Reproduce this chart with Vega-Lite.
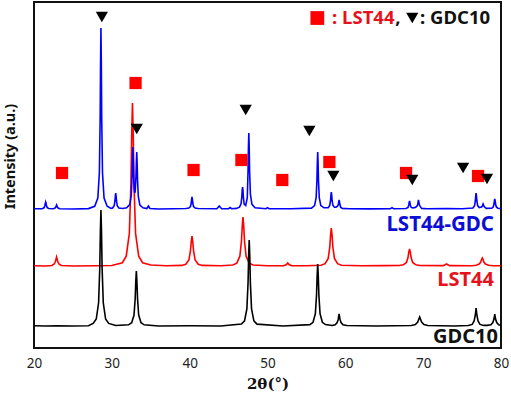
{
  "$schema": "https://vega.github.io/schema/vega-lite/v6.json",
  "width": 467,
  "height": 346,
  "autosize": {"type": "none"},
  "padding": {"left": 34, "top": 2, "right": 10, "bottom": 49},
  "background": "white",
  "config": {"view": {"stroke": "#111111", "strokeWidth": 2}, "font": "Noto Sans"},
  "datasets": {
    "gdc": [
      {"x":20,"y":22.3},{"x":21.5,"y":22},{"x":23,"y":22.2},{"x":25,"y":22},{"x":27,"y":22.3},
      {"x":27.6,"y":24.6},{"x":28.0,"y":29},{"x":28.3,"y":45.2},{"x":28.45,"y":80},{"x":28.53,"y":117},{"x":28.6,"y":138},{"x":28.67,"y":117},{"x":28.75,"y":80},{"x":28.9,"y":45.2},{"x":29.2,"y":29},{"x":29.6,"y":24.6},
      {"x":30.5,"y":22.5},{"x":32.15,"y":23.2},{"x":32.55,"y":25.3},{"x":32.85,"y":33},{"x":33.0,"y":49.5},{"x":33.08,"y":67},{"x":33.15,"y":77},{"x":33.22,"y":67},{"x":33.3,"y":49.5},{"x":33.45,"y":33},{"x":33.75,"y":25.3},{"x":34.15,"y":23.2},
      {"x":36,"y":22},{"x":40,"y":22.2},{"x":44,"y":22},
      {"x":46.65,"y":23.9},{"x":47.05,"y":27.2},{"x":47.35,"y":39.2},{"x":47.5,"y":65},{"x":47.58,"y":92.5},{"x":47.65,"y":108},{"x":47.72,"y":92.5},{"x":47.8,"y":65},{"x":47.95,"y":39.2},{"x":48.25,"y":27.2},{"x":48.65,"y":23.9},
      {"x":52,"y":22},
      {"x":55.45,"y":23.4},{"x":55.85,"y":25.7},{"x":56.15,"y":34.4},{"x":56.3,"y":53},{"x":56.38,"y":72.8},{"x":56.45,"y":84},{"x":56.52,"y":72.8},{"x":56.6,"y":53},{"x":56.75,"y":34.4},{"x":57.05,"y":25.7},{"x":57.45,"y":23.4},
      {"x":58.3,"y":22.5},{"x":58.7,"y":23.2},{"x":58.95,"y":25.5},{"x":59.08,"y":28.5},{"x":59.2,"y":34},{"x":59.32,"y":28.5},{"x":59.45,"y":25.5},{"x":59.7,"y":23.2},{"x":60.2,"y":22.5},
      {"x":64,"y":22},
      {"x":68.5,"y":22.5},{"x":69.0,"y":23.5},{"x":69.3,"y":26},{"x":69.45,"y":29},{"x":69.55,"y":31},{"x":69.65,"y":29},{"x":69.8,"y":26},{"x":70.1,"y":23.5},{"x":70.6,"y":22.5},
      {"x":74,"y":22},
      {"x":75.8,"y":22.5},{"x":76.3,"y":23.6},{"x":76.55,"y":27},{"x":76.7,"y":33},{"x":76.8,"y":40},{"x":76.9,"y":33},{"x":77.05,"y":27},{"x":77.3,"y":23.6},{"x":77.8,"y":22.6},
      {"x":78.2,"y":22.6},{"x":78.7,"y":23.3},{"x":78.95,"y":25.5},{"x":79.1,"y":29},{"x":79.2,"y":34},{"x":79.3,"y":29},{"x":79.45,"y":25.5},{"x":79.7,"y":23.3},{"x":80,"y":22.8}
    ],
    "lst": [
      {"x":20,"y":82.3},{"x":21.5,"y":82},{"x":22.3,"y":82.5},{"x":22.6,"y":84},{"x":22.75,"y":86.5},{"x":22.85,"y":89.5},{"x":22.9,"y":91},{"x":22.95,"y":89.5},{"x":23.05,"y":86.5},{"x":23.2,"y":84},{"x":23.5,"y":82.5},
      {"x":25,"y":82},{"x":28,"y":82.3},{"x":30,"y":82.5},
      {"x":31.35,"y":85.3},{"x":31.85,"y":91.8},{"x":32.25,"y":114.6},{"x":32.45,"y":163.5},{"x":32.55,"y":212.4},{"x":32.65,"y":245},{"x":32.75,"y":212.4},{"x":32.85,"y":163.5},{"x":33.05,"y":114.6},{"x":33.45,"y":91.8},{"x":33.95,"y":85.3},
      {"x":35,"y":83},{"x":37,"y":82.3},
      {"x":39.0,"y":82.6},{"x":39.5,"y":83.8},{"x":39.9,"y":88},{"x":40.1,"y":97},{"x":40.2,"y":106},{"x":40.3,"y":112},{"x":40.4,"y":106},{"x":40.5,"y":97},{"x":40.7,"y":88},{"x":41.1,"y":83.8},{"x":41.6,"y":82.6},
      {"x":44,"y":82.3},
      {"x":45.55,"y":83},{"x":46.05,"y":84.9},{"x":46.45,"y":91.8},{"x":46.65,"y":106.5},{"x":46.75,"y":121.2},{"x":46.85,"y":131},{"x":46.95,"y":121.2},{"x":47.05,"y":106.5},{"x":47.25,"y":91.8},{"x":47.65,"y":84.9},{"x":48.15,"y":83},
      {"x":50,"y":82.3},{"x":52.1,"y":82.4},{"x":52.4,"y":83.3},{"x":52.6,"y":85},{"x":52.8,"y":83.3},{"x":53.1,"y":82.4},{"x":55,"y":82.2},
      {"x":56.9,"y":82.8},{"x":57.4,"y":84.3},{"x":57.8,"y":89.6},{"x":58.0,"y":101},{"x":58.1,"y":112.4},{"x":58.2,"y":120},{"x":58.3,"y":112.4},{"x":58.4,"y":101},{"x":58.6,"y":89.6},{"x":59.0,"y":84.3},{"x":59.5,"y":82.8},
      {"x":62,"y":82.2},{"x":65,"y":82.4},
      {"x":66.95,"y":82.5},{"x":67.45,"y":83.2},{"x":67.85,"y":85.6},{"x":68.05,"y":90.5},{"x":68.15,"y":95.6},{"x":68.25,"y":99},{"x":68.35,"y":95.6},{"x":68.45,"y":90.5},{"x":68.65,"y":85.6},{"x":69.05,"y":83.2},{"x":69.55,"y":82.5},
      {"x":72.6,"y":82.4},{"x":73.0,"y":84},{"x":73.4,"y":82.4},
      {"x":76.3,"y":82.3},{"x":76.8,"y":82.8},{"x":77.2,"y":84},{"x":77.4,"y":86},{"x":77.5,"y":88.4},{"x":77.6,"y":90},{"x":77.7,"y":88.4},{"x":77.8,"y":86},{"x":78.0,"y":84},{"x":78.4,"y":82.8},{"x":79,"y":82.3},{"x":80,"y":82.2}
    ],
    "mix": [
      {"x":20,"y":139.3},{"x":21,"y":139.2},{"x":21.1,"y":139.5},{"x":21.3,"y":140.4},{"x":21.4,"y":142.5},{"x":21.45,"y":144.6},{"x":21.5,"y":146},{"x":21.55,"y":144.6},{"x":21.6,"y":142.5},{"x":21.7,"y":140.4},{"x":21.9,"y":139.5},
      {"x":22.5,"y":139.3},{"x":22.7,"y":140},{"x":22.8,"y":141},{"x":22.9,"y":143},{"x":23.0,"y":141},{"x":23.1,"y":140},{"x":23.3,"y":139.3},
      {"x":25,"y":139},{"x":27,"y":139.4},
      {"x":27.8,"y":141.7},{"x":28.2,"y":149.9},{"x":28.4,"y":175.2},{"x":28.5,"y":229.5},{"x":28.55,"y":283.8},{"x":28.6,"y":320},{"x":28.65,"y":283.8},{"x":28.7,"y":229.5},{"x":28.8,"y":175.2},{"x":29.0,"y":149.9},{"x":29.4,"y":141.7},{"x":29.9,"y":139.6},
      {"x":30.1,"y":140},{"x":30.3,"y":142.2},{"x":30.4,"y":147},{"x":30.45,"y":151.8},{"x":30.5,"y":155},{"x":30.55,"y":151.8},{"x":30.6,"y":147},{"x":30.7,"y":142.2},{"x":30.9,"y":140},{"x":31.4,"y":139.5},
      {"x":31.9,"y":140.2},{"x":32.3,"y":143.4},{"x":32.5,"y":152.5},{"x":32.6,"y":171.5},{"x":32.65,"y":190},{"x":32.7,"y":201},{"x":32.75,"y":190},{"x":32.8,"y":172},{"x":32.9,"y":157},{"x":32.95,"y":155},{"x":33.0,"y":156.5},{"x":33.1,"y":171},{"x":33.15,"y":186},{"x":33.2,"y":196},{"x":33.25,"y":186},{"x":33.3,"y":169},{"x":33.4,"y":151.5},{"x":33.6,"y":143},{"x":34.0,"y":140.2},
      {"x":34.5,"y":139.5},{"x":34.7,"y":142},{"x":34.9,"y":139.5},{"x":36,"y":139},{"x":38,"y":139.2},
      {"x":39.5,"y":139.5},{"x":39.9,"y":140},{"x":40.1,"y":141.5},{"x":40.2,"y":145},{"x":40.25,"y":148.6},{"x":40.3,"y":151},{"x":40.35,"y":148.6},{"x":40.4,"y":145},{"x":40.5,"y":141.5},{"x":40.7,"y":140},{"x":41.1,"y":139.5},
      {"x":43.5,"y":139.3},{"x":43.8,"y":142},{"x":44.1,"y":139.3},{"x":45.0,"y":139.3},{"x":45.2,"y":140.5},{"x":45.4,"y":139.3},
      {"x":46.0,"y":139.6},{"x":46.4,"y":140.8},{"x":46.6,"y":144.2},{"x":46.7,"y":151},{"x":46.75,"y":157.6},{"x":46.8,"y":161},{"x":46.85,"y":157.6},{"x":46.9,"y":151},{"x":47.0,"y":144},{"x":47.2,"y":142.5},{"x":47.4,"y":150},{"x":47.5,"y":177},{"x":47.55,"y":200},{"x":47.6,"y":215},{"x":47.65,"y":200},{"x":47.7,"y":177},{"x":47.8,"y":154},{"x":48.0,"y":143.6},{"x":48.4,"y":140.3},
      {"x":49.8,"y":139.3},{"x":50.0,"y":140.3},{"x":50.2,"y":139.3},{"x":53,"y":139.2},
      {"x":55.65,"y":139.9},{"x":56.05,"y":142.4},{"x":56.25,"y":150.4},{"x":56.35,"y":167.5},{"x":56.4,"y":184.6},{"x":56.45,"y":196},{"x":56.5,"y":184.6},{"x":56.55,"y":167.5},{"x":56.65,"y":150.4},{"x":56.85,"y":142.4},{"x":57.25,"y":140.2},
      {"x":57.8,"y":140.3},{"x":58.0,"y":142.6},{"x":58.1,"y":147.5},{"x":58.15,"y":152.6},{"x":58.2,"y":156},{"x":58.25,"y":152.6},{"x":58.3,"y":147.5},{"x":58.4,"y":142.8},{"x":58.6,"y":140.8},
      {"x":58.8,"y":140.8},{"x":59.0,"y":141.8},{"x":59.1,"y":143.5},{"x":59.15,"y":146.2},{"x":59.2,"y":148},{"x":59.25,"y":146.2},{"x":59.3,"y":143.5},{"x":59.4,"y":140.8},{"x":59.6,"y":139.6},
      {"x":60.5,"y":139.2},{"x":63,"y":139.1},{"x":65.8,"y":139.3},{"x":66.0,"y":140.3},{"x":66.2,"y":139.3},
      {"x":67.8,"y":139.5},{"x":68.05,"y":140.6},{"x":68.15,"y":143},{"x":68.2,"y":145.4},{"x":68.25,"y":147},{"x":68.3,"y":145.4},{"x":68.35,"y":143},{"x":68.45,"y":140.8},{"x":68.65,"y":140},
      {"x":69.0,"y":140.6},{"x":69.2,"y":141.8},{"x":69.3,"y":143.5},{"x":69.35,"y":146.2},{"x":69.4,"y":148},{"x":69.45,"y":146.2},{"x":69.5,"y":143.5},{"x":69.6,"y":141.8},{"x":69.8,"y":139.6},
      {"x":70.5,"y":139.2},{"x":73.0,"y":139.4},{"x":75,"y":139.3},
      {"x":76.4,"y":140},{"x":76.6,"y":142.2},{"x":76.7,"y":147},{"x":76.75,"y":151.8},{"x":76.8,"y":155},{"x":76.85,"y":151.8},{"x":76.9,"y":147},{"x":77.0,"y":142.4},{"x":77.2,"y":140.5},
      {"x":77.5,"y":141},{"x":77.6,"y":142},{"x":77.7,"y":144},{"x":77.8,"y":142},{"x":77.9,"y":141},{"x":78.1,"y":139.6},
      {"x":78.8,"y":139.7},{"x":79.0,"y":141},{"x":79.1,"y":144},{"x":79.15,"y":147},{"x":79.2,"y":149},{"x":79.25,"y":147},{"x":79.3,"y":144},{"x":79.4,"y":141},{"x":79.6,"y":139.8},{"x":80,"y":139.4}
    ],
    "squares": [
      {"x":23.6,"y":175},{"x":33.05,"y":265},{"x":40.5,"y":178},{"x":46.65,"y":188},{"x":51.9,"y":168},{"x":57.95,"y":186},{"x":67.8,"y":175},{"x":77.05,"y":172}
    ],
    "triangles": [
      {"x":28.72,"y":331},{"x":33.2,"y":219},{"x":47.2,"y":238},{"x":55.38,"y":217},{"x":58.46,"y":172},{"x":68.6,"y":168},{"x":75.13,"y":180},{"x":78.2,"y":169}
    ]
  },
  "layer": [
    {
      "data": {"name": "lst"},
      "mark": {"type": "line", "color": "#ff0000", "strokeWidth": 1.6, "clip": true},
      "encoding": {
        "x": {"field": "x", "type": "quantitative", "scale": {"domain": [20, 80], "nice": false, "zero": false},
          "axis": {"title": "2θ(°)", "values": [20, 30, 40, 50, 60, 70, 80], "ticks": false, "domain": false, "grid": false,
            "labelFontSize": 13.5, "labelColor": "#222222", "labelPadding": 8, "labelFlush": false,
            "titleFont": "DejaVu Serif", "titleFontWeight": "bold", "titleFontSize": 15, "titleColor": "#111111", "titlePadding": 7}},
        "y": {"field": "y", "type": "quantitative", "scale": {"domain": [0, 346], "nice": false, "zero": false},
          "axis": {"title": "Intensity (a.u.)", "labels": false, "ticks": false, "domain": false, "grid": false,
            "titleFontSize": 14.5, "titleFontWeight": "bold", "titleColor": "#111111", "titleX": -24, "titleY": 154, "titleBaseline": "middle", "titleAlign": "center"}}
      }
    },
    {
      "data": {"name": "gdc"},
      "mark": {"type": "line", "color": "#000000", "strokeWidth": 1.6, "clip": true},
      "encoding": {"x": {"field": "x", "type": "quantitative"}, "y": {"field": "y", "type": "quantitative"}}
    },
    {
      "data": {"name": "mix"},
      "mark": {"type": "line", "color": "#0000ff", "strokeWidth": 1.6, "clip": true},
      "encoding": {"x": {"field": "x", "type": "quantitative"}, "y": {"field": "y", "type": "quantitative"}}
    },
    {
      "data": {"name": "squares"},
      "mark": {"type": "point", "shape": "square", "filled": true, "color": "#ff0000", "opacity": 1, "size": 150},
      "encoding": {"x": {"field": "x", "type": "quantitative"}, "y": {"field": "y", "type": "quantitative"}}
    },
    {
      "data": {"name": "triangles"},
      "mark": {"type": "point", "shape": "triangle-down", "filled": true, "color": "#000000", "opacity": 1, "size": 150},
      "encoding": {"x": {"field": "x", "type": "quantitative"}, "y": {"field": "y", "type": "quantitative"}}
    },
    {
      "data": {"values": [{"x": 56.4, "y": 330}]},
      "mark": {"type": "point", "shape": "square", "filled": true, "color": "#ff0000", "opacity": 1, "size": 190},
      "encoding": {"x": {"field": "x", "type": "quantitative"}, "y": {"field": "y", "type": "quantitative"}}
    },
    {
      "data": {"values": [{"x": 68.6, "y": 330}]},
      "mark": {"type": "point", "shape": "triangle-down", "filled": true, "color": "#000000", "opacity": 1, "size": 150},
      "encoding": {"x": {"field": "x", "type": "quantitative"}, "y": {"field": "y", "type": "quantitative"}}
    },
    {
      "data": {"values": [{"x": 58.3, "y": 330, "t": ": LST44"}]},
      "mark": {"type": "text", "align": "left", "baseline": "middle", "fontSize": 18.5, "fontWeight": "bold", "color": "#e8101a"},
      "encoding": {"x": {"field": "x", "type": "quantitative"}, "y": {"field": "y", "type": "quantitative"}, "text": {"field": "t"}}
    },
    {
      "data": {"values": [{"x": 66.4, "y": 330, "t": ","}]},
      "mark": {"type": "text", "align": "left", "baseline": "middle", "fontSize": 18.5, "fontWeight": "bold", "color": "#111111"},
      "encoding": {"x": {"field": "x", "type": "quantitative"}, "y": {"field": "y", "type": "quantitative"}, "text": {"field": "t"}}
    },
    {
      "data": {"values": [{"x": 69.6, "y": 330, "t": ": GDC10"}]},
      "mark": {"type": "text", "align": "left", "baseline": "middle", "fontSize": 18.5, "fontWeight": "bold", "color": "#111111"},
      "encoding": {"x": {"field": "x", "type": "quantitative"}, "y": {"field": "y", "type": "quantitative"}, "text": {"field": "t"}}
    },
    {
      "data": {"values": [{"x": 79.1, "y": 123, "t": "LST44-GDC"}]},
      "mark": {"type": "text", "align": "right", "baseline": "middle", "fontSize": 20.5, "fontWeight": "bold", "color": "#0d0dd6"},
      "encoding": {"x": {"field": "x", "type": "quantitative"}, "y": {"field": "y", "type": "quantitative"}, "text": {"field": "t"}}
    },
    {
      "data": {"values": [{"x": 79.1, "y": 68, "t": "LST44"}]},
      "mark": {"type": "text", "align": "right", "baseline": "middle", "fontSize": 20, "fontWeight": "bold", "color": "#e8101a"},
      "encoding": {"x": {"field": "x", "type": "quantitative"}, "y": {"field": "y", "type": "quantitative"}, "text": {"field": "t"}}
    },
    {
      "data": {"values": [{"x": 79.6, "y": 11, "t": "GDC10"}]},
      "mark": {"type": "text", "align": "right", "baseline": "middle", "fontSize": 20, "fontWeight": "bold", "color": "#111111"},
      "encoding": {"x": {"field": "x", "type": "quantitative"}, "y": {"field": "y", "type": "quantitative"}, "text": {"field": "t"}}
    }
  ]
}
